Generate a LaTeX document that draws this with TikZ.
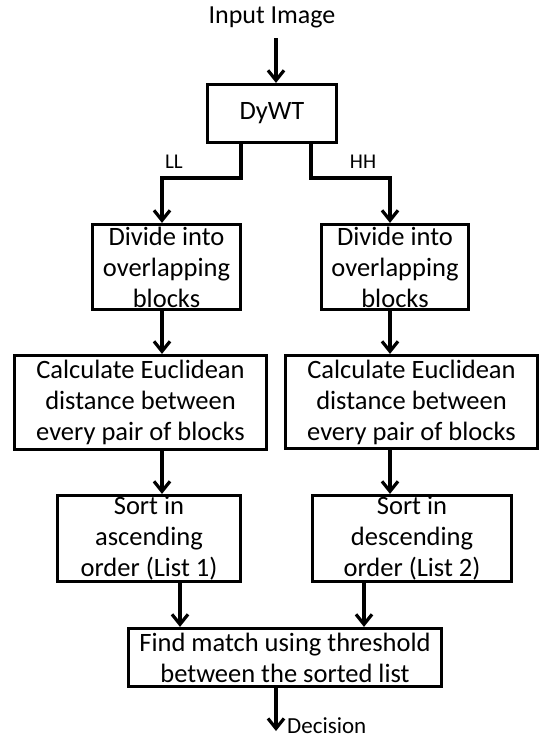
\documentclass[tikz,border=0pt]{standalone}
\usepackage{fontspec}
\setmainfont{Carlito}
\usetikzlibrary{arrows.meta}
\begin{document}
\begin{tikzpicture}[x=1pt,y=-1pt,
 box/.style={draw, line width=3.2pt, inner sep=0pt, align=center, font=\fontsize{26.5}{31}\selectfont},
 arr/.style={line width=3.2pt, -{Straight Barb[length=10pt,width=16pt]}},
 lab/.style={font=\fontsize{21}{24}\selectfont, inner sep=0pt},
 txt/.style={font=\fontsize{26}{30}\selectfont, inner sep=0pt}]
\useasboundingbox (0,0) rectangle (540,740);
\node[txt] (in) at (272,17) {Input Image};
\node[box, minimum width=129pt, minimum height=58pt] (dywt) at (272,113.5) {DyWT};
\node[box, minimum width=148pt, minimum height=85pt] (divL) at (166.5,267) {Divide into\\overlapping\\blocks};
\node[box, minimum width=147pt, minimum height=85pt] (divR) at (395,267) {Divide into\\overlapping\\blocks};
\node[box, minimum width=252pt, minimum height=94pt] (calL) at (140.5,402.5) {Calculate Euclidean\\distance between\\every pair of blocks};
\node[box, minimum width=252pt, minimum height=93pt] (calR) at (411.5,402) {Calculate Euclidean\\distance between\\every pair of blocks};
\node[box, minimum width=183pt, minimum height=86pt] (sortL) at (149,538.5) {Sort in\\ascending\\order (List 1)};
\node[box, minimum width=199pt, minimum height=86pt] (sortR) at (412,538.5) {Sort in\\descending\\order (List 2)};
\node[box, minimum width=313pt, minimum height=58pt] (find) at (285,657.5) {Find match using threshold\\between the sorted list};
\node[lab] (ll) at (174,162) {LL};
\node[lab] (hh) at (363,162) {HH};
\node[font=\fontsize{23}{26}\selectfont, inner sep=0pt, anchor=base west] (dec) at (287,733) {Decision};
\coordinate (xin) at (276,38);
\coordinate (xa) at (241,178);
\coordinate (xb) at (162,178);
\coordinate (xc) at (311,178);
\coordinate (xd) at (390,178);
\coordinate (xe) at (180,0);
\coordinate (xf) at (364,0);
\coordinate (xg) at (276,731);
\draw[arr] (xin) -- (xin |- dywt.north);
\draw[arr] (xa |- dywt.south) -- (xa) -- (xb) -- (xb |- divL.north);
\draw[arr] (xc |- dywt.south) -- (xc) -- (xd) -- (xd |- divR.north);
\draw[arr] (xb |- divL.south) -- (xb |- calL.north);
\draw[arr] (xd |- divR.south) -- (xd |- calR.north);
\draw[arr] (xb |- calL.south) -- (xb |- sortL.north);
\draw[arr] (xd |- calR.south) -- (xd |- sortR.north);
\draw[arr] (xe |- sortL.south) -- (xe |- find.north);
\draw[arr] (xf |- sortR.south) -- (xf |- find.north);
\draw[arr] (xg |- find.south) -- (xg);
\end{tikzpicture}
\end{document}
